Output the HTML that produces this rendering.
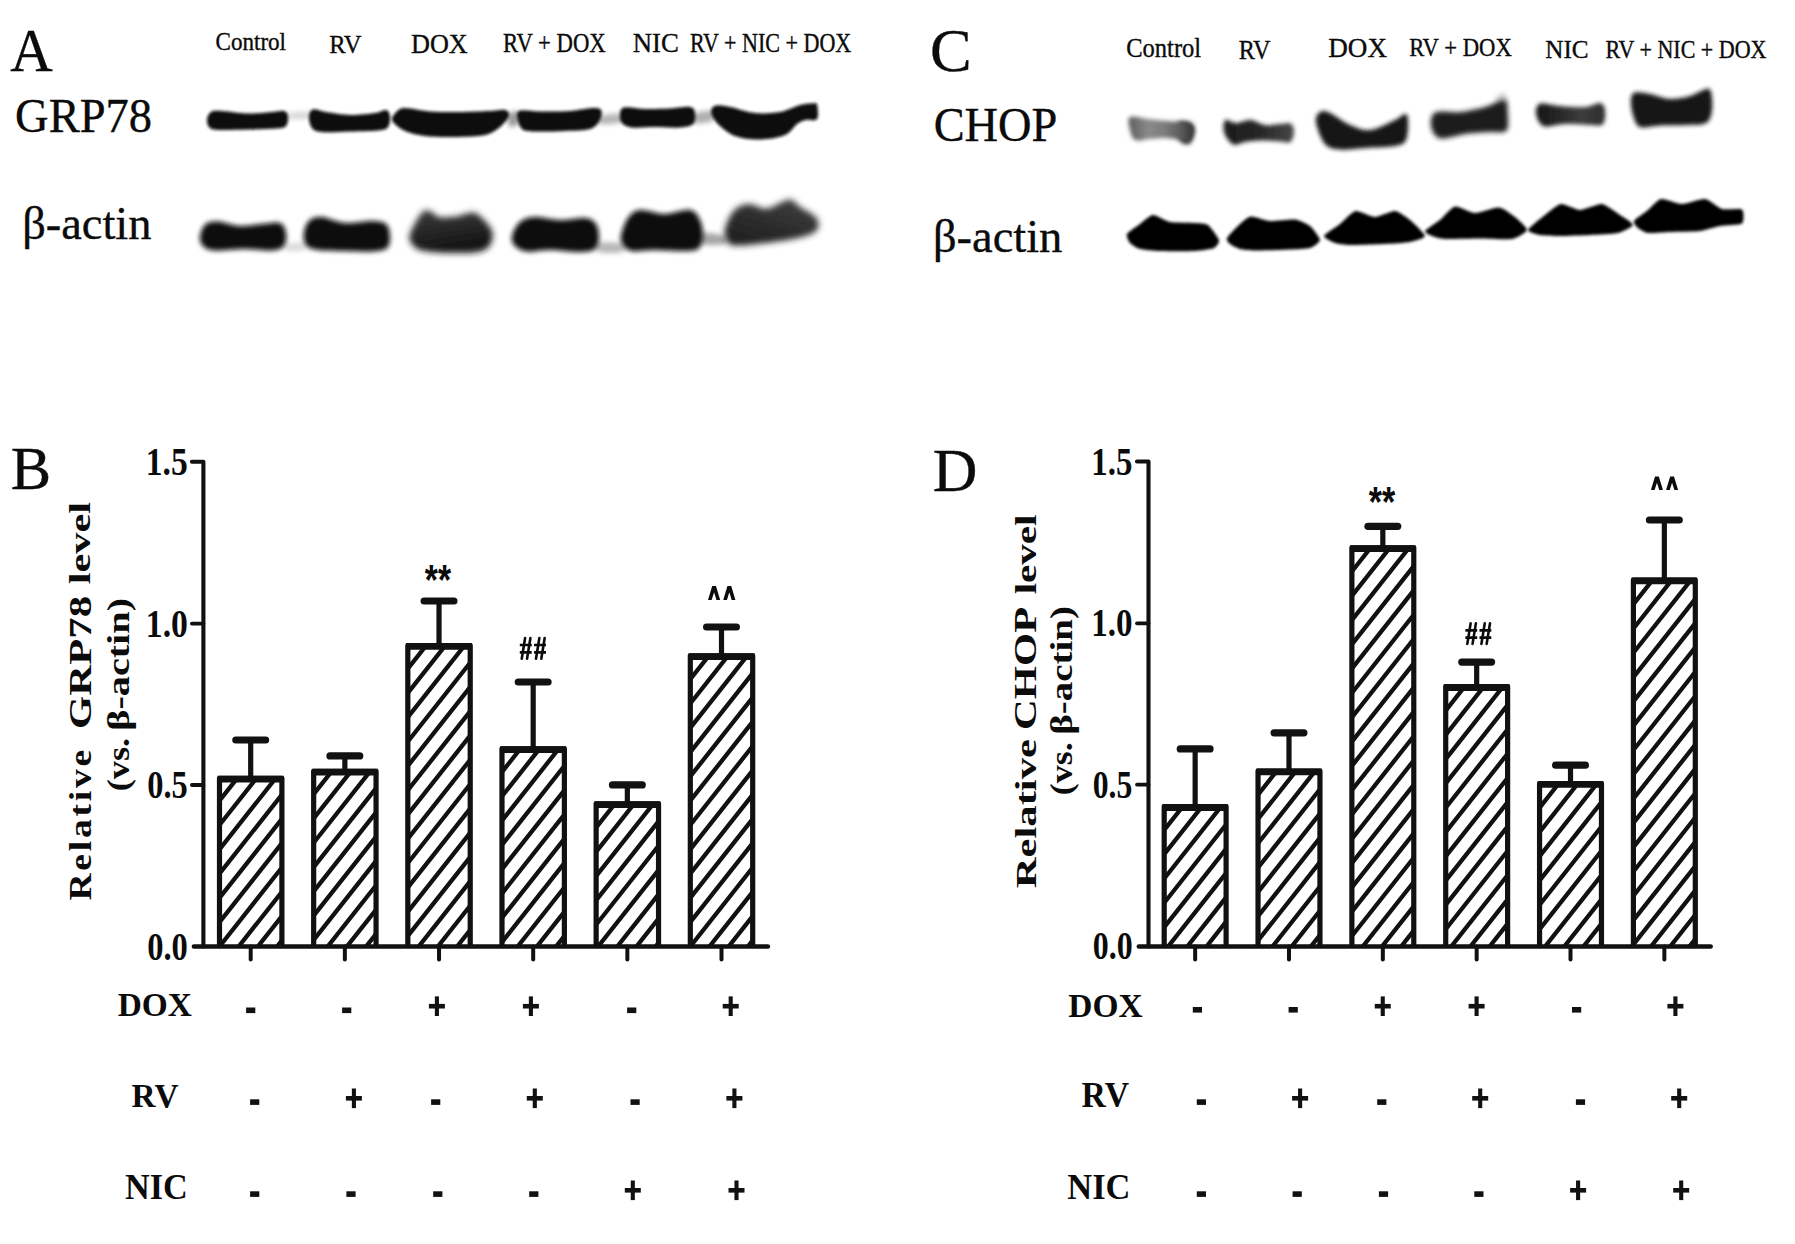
<!DOCTYPE html>
<html><head><meta charset="utf-8"><style>
html,body{margin:0;padding:0;background:#fff;overflow:hidden}
svg{display:block}
text{fill:#0b0b0b}
</style></head><body>
<svg width="1795" height="1244" viewBox="0 0 1795 1244">
<rect width="1795" height="1244" fill="#fff"/>
<clipPath id="clip203_0"><rect x="219.50" y="779.10" width="62.40" height="167.40"/></clipPath>
<path clip-path="url(#clip203_0)" d="M209.50 764.76L291.90 660.44M209.50 789.06L291.90 684.74M209.50 813.36L291.90 709.04M209.50 837.66L291.90 733.34M209.50 861.96L291.90 757.64M209.50 886.26L291.90 781.94M209.50 910.56L291.90 806.24M209.50 934.86L291.90 830.54M209.50 959.16L291.90 854.84M209.50 983.46L291.90 879.14M209.50 1007.76L291.90 903.44M209.50 1032.06L291.90 927.74M209.50 1056.36L291.90 952.04M209.50 1080.66L291.90 976.34" stroke="#111" stroke-width="4.3" fill="none"/>
<path d="M219.50 946.5V778.30H281.90V946.5" stroke="#111" stroke-width="5.2" fill="none" stroke-linejoin="round"/>
<path d="M217.70 779.10H283.70" stroke="#111" stroke-width="6.8" fill="none"/>
<path d="M250.70 776.70V740.00" stroke="#111" stroke-width="5.2" fill="none"/>
<path d="M235.80 740.00H265.60" stroke="#111" stroke-width="7.2" stroke-linecap="round" fill="none"/>
<path d="M250.70 946.5V959.60" stroke="#111" stroke-width="4" stroke-linecap="round" fill="none"/>
<clipPath id="clip203_1"><rect x="313.66" y="772.10" width="62.40" height="174.40"/></clipPath>
<path clip-path="url(#clip203_1)" d="M303.66 758.26L386.06 653.94M303.66 782.56L386.06 678.24M303.66 806.86L386.06 702.54M303.66 831.16L386.06 726.84M303.66 855.46L386.06 751.14M303.66 879.76L386.06 775.44M303.66 904.06L386.06 799.74M303.66 928.36L386.06 824.04M303.66 952.66L386.06 848.34M303.66 976.96L386.06 872.64M303.66 1001.26L386.06 896.94M303.66 1025.56L386.06 921.24M303.66 1049.86L386.06 945.54M303.66 1074.16L386.06 969.84" stroke="#111" stroke-width="4.3" fill="none"/>
<path d="M313.66 946.5V771.30H376.06V946.5" stroke="#111" stroke-width="5.2" fill="none" stroke-linejoin="round"/>
<path d="M311.86 772.10H377.86" stroke="#111" stroke-width="6.8" fill="none"/>
<path d="M344.86 769.70V755.90" stroke="#111" stroke-width="5.2" fill="none"/>
<path d="M329.96 755.90H359.76" stroke="#111" stroke-width="7.2" stroke-linecap="round" fill="none"/>
<path d="M344.86 946.5V959.60" stroke="#111" stroke-width="4" stroke-linecap="round" fill="none"/>
<clipPath id="clip203_2"><rect x="407.82" y="646.40" width="62.40" height="300.10"/></clipPath>
<path clip-path="url(#clip203_2)" d="M397.82 632.76L480.22 528.44M397.82 657.06L480.22 552.74M397.82 681.36L480.22 577.04M397.82 705.66L480.22 601.34M397.82 729.96L480.22 625.64M397.82 754.26L480.22 649.94M397.82 778.56L480.22 674.24M397.82 802.86L480.22 698.54M397.82 827.16L480.22 722.84M397.82 851.46L480.22 747.14M397.82 875.76L480.22 771.44M397.82 900.06L480.22 795.74M397.82 924.36L480.22 820.04M397.82 948.66L480.22 844.34M397.82 972.96L480.22 868.64M397.82 997.26L480.22 892.94M397.82 1021.56L480.22 917.24M397.82 1045.86L480.22 941.54M397.82 1070.16L480.22 965.84" stroke="#111" stroke-width="4.3" fill="none"/>
<path d="M407.82 946.5V645.60H470.22V946.5" stroke="#111" stroke-width="5.2" fill="none" stroke-linejoin="round"/>
<path d="M406.02 646.40H472.02" stroke="#111" stroke-width="6.8" fill="none"/>
<path d="M439.02 644.00V601.00" stroke="#111" stroke-width="5.2" fill="none"/>
<path d="M424.12 601.00H453.92" stroke="#111" stroke-width="7.2" stroke-linecap="round" fill="none"/>
<path d="M439.02 946.5V959.60" stroke="#111" stroke-width="4" stroke-linecap="round" fill="none"/>
<clipPath id="clip203_3"><rect x="501.98" y="749.60" width="62.40" height="196.90"/></clipPath>
<path clip-path="url(#clip203_3)" d="M491.98 736.06L574.38 631.74M491.98 760.36L574.38 656.04M491.98 784.66L574.38 680.34M491.98 808.96L574.38 704.64M491.98 833.26L574.38 728.94M491.98 857.56L574.38 753.24M491.98 881.86L574.38 777.54M491.98 906.16L574.38 801.84M491.98 930.46L574.38 826.14M491.98 954.76L574.38 850.44M491.98 979.06L574.38 874.74M491.98 1003.36L574.38 899.04M491.98 1027.66L574.38 923.34M491.98 1051.96L574.38 947.64M491.98 1076.26L574.38 971.94" stroke="#111" stroke-width="4.3" fill="none"/>
<path d="M501.98 946.5V748.80H564.38V946.5" stroke="#111" stroke-width="5.2" fill="none" stroke-linejoin="round"/>
<path d="M500.18 749.60H566.18" stroke="#111" stroke-width="6.8" fill="none"/>
<path d="M533.18 747.20V682.00" stroke="#111" stroke-width="5.2" fill="none"/>
<path d="M518.28 682.00H548.08" stroke="#111" stroke-width="7.2" stroke-linecap="round" fill="none"/>
<path d="M533.18 946.5V959.60" stroke="#111" stroke-width="4" stroke-linecap="round" fill="none"/>
<clipPath id="clip203_4"><rect x="596.14" y="804.60" width="62.40" height="141.90"/></clipPath>
<path clip-path="url(#clip203_4)" d="M586.14 791.56L668.54 687.24M586.14 815.86L668.54 711.54M586.14 840.16L668.54 735.84M586.14 864.46L668.54 760.14M586.14 888.76L668.54 784.44M586.14 913.06L668.54 808.74M586.14 937.36L668.54 833.04M586.14 961.66L668.54 857.34M586.14 985.96L668.54 881.64M586.14 1010.26L668.54 905.94M586.14 1034.56L668.54 930.24M586.14 1058.86L668.54 954.54M586.14 1083.16L668.54 978.84" stroke="#111" stroke-width="4.3" fill="none"/>
<path d="M596.14 946.5V803.80H658.54V946.5" stroke="#111" stroke-width="5.2" fill="none" stroke-linejoin="round"/>
<path d="M594.34 804.60H660.34" stroke="#111" stroke-width="6.8" fill="none"/>
<path d="M627.34 802.20V784.90" stroke="#111" stroke-width="5.2" fill="none"/>
<path d="M612.44 784.90H642.24" stroke="#111" stroke-width="7.2" stroke-linecap="round" fill="none"/>
<path d="M627.34 946.5V959.60" stroke="#111" stroke-width="4" stroke-linecap="round" fill="none"/>
<clipPath id="clip203_5"><rect x="690.30" y="656.60" width="62.40" height="289.90"/></clipPath>
<path clip-path="url(#clip203_5)" d="M680.30 643.26L762.70 538.94M680.30 667.56L762.70 563.24M680.30 691.86L762.70 587.54M680.30 716.16L762.70 611.84M680.30 740.46L762.70 636.14M680.30 764.76L762.70 660.44M680.30 789.06L762.70 684.74M680.30 813.36L762.70 709.04M680.30 837.66L762.70 733.34M680.30 861.96L762.70 757.64M680.30 886.26L762.70 781.94M680.30 910.56L762.70 806.24M680.30 934.86L762.70 830.54M680.30 959.16L762.70 854.84M680.30 983.46L762.70 879.14M680.30 1007.76L762.70 903.44M680.30 1032.06L762.70 927.74M680.30 1056.36L762.70 952.04M680.30 1080.66L762.70 976.34" stroke="#111" stroke-width="4.3" fill="none"/>
<path d="M690.30 946.5V655.80H752.70V946.5" stroke="#111" stroke-width="5.2" fill="none" stroke-linejoin="round"/>
<path d="M688.50 656.60H754.50" stroke="#111" stroke-width="6.8" fill="none"/>
<path d="M721.50 654.20V627.00" stroke="#111" stroke-width="5.2" fill="none"/>
<path d="M706.60 627.00H736.40" stroke="#111" stroke-width="7.2" stroke-linecap="round" fill="none"/>
<path d="M721.50 946.5V959.60" stroke="#111" stroke-width="4" stroke-linecap="round" fill="none"/>
<path d="M191.90 461.70H203.40V946.5" stroke="#111" stroke-width="4.1" fill="none" stroke-linecap="round" stroke-linejoin="round"/>
<path d="M191.90 623.60H203.40" stroke="#111" stroke-width="3.8" stroke-linecap="round" fill="none"/>
<path d="M191.90 785.00H203.40" stroke="#111" stroke-width="3.8" stroke-linecap="round" fill="none"/>
<path d="M194.00 946.5H767.80" stroke="#111" stroke-width="4.7" stroke-linecap="round" fill="none"/>
<clipPath id="clip1148_0"><rect x="1164.20" y="807.50" width="61.90" height="139.00"/></clipPath>
<path clip-path="url(#clip1148_0)" d="M1154.20 794.06L1236.10 690.37M1154.20 818.36L1236.10 714.67M1154.20 842.66L1236.10 738.97M1154.20 866.96L1236.10 763.27M1154.20 891.26L1236.10 787.57M1154.20 915.56L1236.10 811.87M1154.20 939.86L1236.10 836.17M1154.20 964.16L1236.10 860.47M1154.20 988.46L1236.10 884.77M1154.20 1012.76L1236.10 909.07M1154.20 1037.06L1236.10 933.37M1154.20 1061.36L1236.10 957.67M1154.20 1085.66L1236.10 981.97" stroke="#111" stroke-width="4.3" fill="none"/>
<path d="M1164.20 946.5V806.70H1226.10V946.5" stroke="#111" stroke-width="5.2" fill="none" stroke-linejoin="round"/>
<path d="M1162.40 807.50H1227.90" stroke="#111" stroke-width="6.8" fill="none"/>
<path d="M1195.15 805.10V748.90" stroke="#111" stroke-width="5.2" fill="none"/>
<path d="M1180.25 748.90H1210.05" stroke="#111" stroke-width="7.2" stroke-linecap="round" fill="none"/>
<path d="M1195.15 946.5V959.60" stroke="#111" stroke-width="4" stroke-linecap="round" fill="none"/>
<clipPath id="clip1148_1"><rect x="1258.04" y="771.80" width="61.90" height="174.70"/></clipPath>
<path clip-path="url(#clip1148_1)" d="M1248.04 758.76L1329.94 655.07M1248.04 783.06L1329.94 679.37M1248.04 807.36L1329.94 703.67M1248.04 831.66L1329.94 727.97M1248.04 855.96L1329.94 752.27M1248.04 880.26L1329.94 776.57M1248.04 904.56L1329.94 800.87M1248.04 928.86L1329.94 825.17M1248.04 953.16L1329.94 849.47M1248.04 977.46L1329.94 873.77M1248.04 1001.76L1329.94 898.07M1248.04 1026.06L1329.94 922.37M1248.04 1050.36L1329.94 946.67M1248.04 1074.66L1329.94 970.97" stroke="#111" stroke-width="4.3" fill="none"/>
<path d="M1258.04 946.5V771.00H1319.94V946.5" stroke="#111" stroke-width="5.2" fill="none" stroke-linejoin="round"/>
<path d="M1256.24 771.80H1321.74" stroke="#111" stroke-width="6.8" fill="none"/>
<path d="M1288.99 769.40V732.80" stroke="#111" stroke-width="5.2" fill="none"/>
<path d="M1274.09 732.80H1303.89" stroke="#111" stroke-width="7.2" stroke-linecap="round" fill="none"/>
<path d="M1288.99 946.5V959.60" stroke="#111" stroke-width="4" stroke-linecap="round" fill="none"/>
<clipPath id="clip1148_2"><rect x="1351.88" y="548.60" width="61.90" height="397.90"/></clipPath>
<path clip-path="url(#clip1148_2)" d="M1341.88 535.56L1423.78 431.87M1341.88 559.86L1423.78 456.17M1341.88 584.16L1423.78 480.47M1341.88 608.46L1423.78 504.77M1341.88 632.76L1423.78 529.07M1341.88 657.06L1423.78 553.37M1341.88 681.36L1423.78 577.67M1341.88 705.66L1423.78 601.97M1341.88 729.96L1423.78 626.27M1341.88 754.26L1423.78 650.57M1341.88 778.56L1423.78 674.87M1341.88 802.86L1423.78 699.17M1341.88 827.16L1423.78 723.47M1341.88 851.46L1423.78 747.77M1341.88 875.76L1423.78 772.07M1341.88 900.06L1423.78 796.37M1341.88 924.36L1423.78 820.67M1341.88 948.66L1423.78 844.97M1341.88 972.96L1423.78 869.27M1341.88 997.26L1423.78 893.57M1341.88 1021.56L1423.78 917.87M1341.88 1045.86L1423.78 942.17M1341.88 1070.16L1423.78 966.47" stroke="#111" stroke-width="4.3" fill="none"/>
<path d="M1351.88 946.5V547.80H1413.78V946.5" stroke="#111" stroke-width="5.2" fill="none" stroke-linejoin="round"/>
<path d="M1350.08 548.60H1415.58" stroke="#111" stroke-width="6.8" fill="none"/>
<path d="M1382.83 546.20V526.30" stroke="#111" stroke-width="5.2" fill="none"/>
<path d="M1367.93 526.30H1397.73" stroke="#111" stroke-width="7.2" stroke-linecap="round" fill="none"/>
<path d="M1382.83 946.5V959.60" stroke="#111" stroke-width="4" stroke-linecap="round" fill="none"/>
<clipPath id="clip1148_3"><rect x="1445.72" y="687.50" width="61.90" height="259.00"/></clipPath>
<path clip-path="url(#clip1148_3)" d="M1435.72 674.56L1517.62 570.87M1435.72 698.86L1517.62 595.17M1435.72 723.16L1517.62 619.47M1435.72 747.46L1517.62 643.77M1435.72 771.76L1517.62 668.07M1435.72 796.06L1517.62 692.37M1435.72 820.36L1517.62 716.67M1435.72 844.66L1517.62 740.97M1435.72 868.96L1517.62 765.27M1435.72 893.26L1517.62 789.57M1435.72 917.56L1517.62 813.87M1435.72 941.86L1517.62 838.17M1435.72 966.16L1517.62 862.47M1435.72 990.46L1517.62 886.77M1435.72 1014.76L1517.62 911.07M1435.72 1039.06L1517.62 935.37M1435.72 1063.36L1517.62 959.67" stroke="#111" stroke-width="4.3" fill="none"/>
<path d="M1445.72 946.5V686.70H1507.62V946.5" stroke="#111" stroke-width="5.2" fill="none" stroke-linejoin="round"/>
<path d="M1443.92 687.50H1509.42" stroke="#111" stroke-width="6.8" fill="none"/>
<path d="M1476.67 685.10V662.10" stroke="#111" stroke-width="5.2" fill="none"/>
<path d="M1461.77 662.10H1491.57" stroke="#111" stroke-width="7.2" stroke-linecap="round" fill="none"/>
<path d="M1476.67 946.5V959.60" stroke="#111" stroke-width="4" stroke-linecap="round" fill="none"/>
<clipPath id="clip1148_4"><rect x="1539.56" y="784.40" width="61.90" height="162.10"/></clipPath>
<path clip-path="url(#clip1148_4)" d="M1529.56 771.76L1611.46 668.07M1529.56 796.06L1611.46 692.37M1529.56 820.36L1611.46 716.67M1529.56 844.66L1611.46 740.97M1529.56 868.96L1611.46 765.27M1529.56 893.26L1611.46 789.57M1529.56 917.56L1611.46 813.87M1529.56 941.86L1611.46 838.17M1529.56 966.16L1611.46 862.47M1529.56 990.46L1611.46 886.77M1529.56 1014.76L1611.46 911.07M1529.56 1039.06L1611.46 935.37M1529.56 1063.36L1611.46 959.67" stroke="#111" stroke-width="4.3" fill="none"/>
<path d="M1539.56 946.5V783.60H1601.46V946.5" stroke="#111" stroke-width="5.2" fill="none" stroke-linejoin="round"/>
<path d="M1537.76 784.40H1603.26" stroke="#111" stroke-width="6.8" fill="none"/>
<path d="M1570.51 782.00V765.20" stroke="#111" stroke-width="5.2" fill="none"/>
<path d="M1555.61 765.20H1585.41" stroke="#111" stroke-width="7.2" stroke-linecap="round" fill="none"/>
<path d="M1570.51 946.5V959.60" stroke="#111" stroke-width="4" stroke-linecap="round" fill="none"/>
<clipPath id="clip1148_5"><rect x="1633.40" y="580.90" width="61.90" height="365.60"/></clipPath>
<path clip-path="url(#clip1148_5)" d="M1623.40 568.36L1705.30 464.67M1623.40 592.66L1705.30 488.97M1623.40 616.96L1705.30 513.27M1623.40 641.26L1705.30 537.57M1623.40 665.56L1705.30 561.87M1623.40 689.86L1705.30 586.17M1623.40 714.16L1705.30 610.47M1623.40 738.46L1705.30 634.77M1623.40 762.76L1705.30 659.07M1623.40 787.06L1705.30 683.37M1623.40 811.36L1705.30 707.67M1623.40 835.66L1705.30 731.97M1623.40 859.96L1705.30 756.27M1623.40 884.26L1705.30 780.57M1623.40 908.56L1705.30 804.87M1623.40 932.86L1705.30 829.17M1623.40 957.16L1705.30 853.47M1623.40 981.46L1705.30 877.77M1623.40 1005.76L1705.30 902.07M1623.40 1030.06L1705.30 926.37M1623.40 1054.36L1705.30 950.67M1623.40 1078.66L1705.30 974.97" stroke="#111" stroke-width="4.3" fill="none"/>
<path d="M1633.40 946.5V580.10H1695.30V946.5" stroke="#111" stroke-width="5.2" fill="none" stroke-linejoin="round"/>
<path d="M1631.60 580.90H1697.10" stroke="#111" stroke-width="6.8" fill="none"/>
<path d="M1664.35 578.50V520.00" stroke="#111" stroke-width="5.2" fill="none"/>
<path d="M1649.45 520.00H1679.25" stroke="#111" stroke-width="7.2" stroke-linecap="round" fill="none"/>
<path d="M1664.35 946.5V959.60" stroke="#111" stroke-width="4" stroke-linecap="round" fill="none"/>
<path d="M1137.00 461.50H1148.50V946.5" stroke="#111" stroke-width="4.1" fill="none" stroke-linecap="round" stroke-linejoin="round"/>
<path d="M1137.00 623.30H1148.50" stroke="#111" stroke-width="3.8" stroke-linecap="round" fill="none"/>
<path d="M1137.00 784.60H1148.50" stroke="#111" stroke-width="3.8" stroke-linecap="round" fill="none"/>
<path d="M1138.90 946.5H1710.60" stroke="#111" stroke-width="4.7" stroke-linecap="round" fill="none"/>
<rect x="246.10" y="1007.50" width="9.2" height="5.6" fill="#111"/>
<rect x="342.10" y="1007.50" width="9.2" height="5.6" fill="#111"/>
<rect x="428.90" y="1003.90" width="16" height="4.6" fill="#111"/><rect x="434.85" y="996.40" width="4.1" height="19.6" fill="#111"/>
<rect x="522.90" y="1003.90" width="16" height="4.6" fill="#111"/><rect x="528.85" y="996.40" width="4.1" height="19.6" fill="#111"/>
<rect x="627.10" y="1007.50" width="9.2" height="5.6" fill="#111"/>
<rect x="722.70" y="1003.90" width="16" height="4.6" fill="#111"/><rect x="728.65" y="996.40" width="4.1" height="19.6" fill="#111"/>
<rect x="250.10" y="1099.30" width="9.2" height="5.6" fill="#111"/>
<rect x="345.90" y="1096.00" width="16" height="4.6" fill="#111"/><rect x="351.85" y="1088.50" width="4.1" height="19.6" fill="#111"/>
<rect x="431.10" y="1099.30" width="9.2" height="5.6" fill="#111"/>
<rect x="526.80" y="1096.00" width="16" height="4.6" fill="#111"/><rect x="532.75" y="1088.50" width="4.1" height="19.6" fill="#111"/>
<rect x="630.50" y="1099.30" width="9.2" height="5.6" fill="#111"/>
<rect x="726.40" y="1096.00" width="16" height="4.6" fill="#111"/><rect x="732.35" y="1088.50" width="4.1" height="19.6" fill="#111"/>
<rect x="250.10" y="1191.30" width="9.2" height="5.6" fill="#111"/>
<rect x="346.40" y="1191.30" width="9.2" height="5.6" fill="#111"/>
<rect x="433.20" y="1191.30" width="9.2" height="5.6" fill="#111"/>
<rect x="529.20" y="1191.30" width="9.2" height="5.6" fill="#111"/>
<rect x="624.80" y="1188.00" width="16" height="4.6" fill="#111"/><rect x="630.75" y="1180.50" width="4.1" height="19.6" fill="#111"/>
<rect x="728.50" y="1188.00" width="16" height="4.6" fill="#111"/><rect x="734.45" y="1180.50" width="4.1" height="19.6" fill="#111"/>
<rect x="1192.80" y="1007.00" width="9.2" height="5.6" fill="#111"/>
<rect x="1288.60" y="1007.00" width="9.2" height="5.6" fill="#111"/>
<rect x="1374.75" y="1003.90" width="16" height="4.6" fill="#111"/><rect x="1380.70" y="996.40" width="4.1" height="19.6" fill="#111"/>
<rect x="1468.60" y="1003.90" width="16" height="4.6" fill="#111"/><rect x="1474.55" y="996.40" width="4.1" height="19.6" fill="#111"/>
<rect x="1572.00" y="1007.00" width="9.2" height="5.6" fill="#111"/>
<rect x="1667.40" y="1003.90" width="16" height="4.6" fill="#111"/><rect x="1673.35" y="996.40" width="4.1" height="19.6" fill="#111"/>
<rect x="1196.80" y="1099.30" width="9.2" height="5.6" fill="#111"/>
<rect x="1292.10" y="1096.00" width="16" height="4.6" fill="#111"/><rect x="1298.05" y="1088.50" width="4.1" height="19.6" fill="#111"/>
<rect x="1377.20" y="1099.30" width="9.2" height="5.6" fill="#111"/>
<rect x="1472.20" y="1096.00" width="16" height="4.6" fill="#111"/><rect x="1478.15" y="1088.50" width="4.1" height="19.6" fill="#111"/>
<rect x="1575.90" y="1099.30" width="9.2" height="5.6" fill="#111"/>
<rect x="1671.20" y="1096.00" width="16" height="4.6" fill="#111"/><rect x="1677.15" y="1088.50" width="4.1" height="19.6" fill="#111"/>
<rect x="1196.80" y="1191.30" width="9.2" height="5.6" fill="#111"/>
<rect x="1292.60" y="1191.30" width="9.2" height="5.6" fill="#111"/>
<rect x="1378.90" y="1191.30" width="9.2" height="5.6" fill="#111"/>
<rect x="1474.30" y="1191.30" width="9.2" height="5.6" fill="#111"/>
<rect x="1570.10" y="1188.00" width="16" height="4.6" fill="#111"/><rect x="1576.05" y="1180.50" width="4.1" height="19.6" fill="#111"/>
<rect x="1673.20" y="1188.00" width="16" height="4.6" fill="#111"/><rect x="1679.15" y="1180.50" width="4.1" height="19.6" fill="#111"/>
<path d="M519.80 645.02H531.75M519.80 652.38H531.75" stroke="#0b0b0b" stroke-width="2.7" fill="none"/><path d="M525.11 638.00L521.74 658.70M530.42 638.00L527.05 658.70" stroke="#0b0b0b" stroke-width="2.6" fill="none" stroke-linecap="round"/><path d="M534.05 645.02H546.00M534.05 652.38H546.00" stroke="#0b0b0b" stroke-width="2.7" fill="none"/><path d="M539.36 638.00L535.99 658.70M544.67 638.00L541.30 658.70" stroke="#0b0b0b" stroke-width="2.6" fill="none" stroke-linecap="round"/>
<polygon points="708.00,600.10 711.70,600.10 714.08,592.20 716.45,600.10 720.15,600.10 715.98,586.00 712.18,586.00" fill="#0b0b0b"/><polygon points="723.25,600.10 726.95,600.10 729.33,592.20 731.70,600.10 735.40,600.10 731.23,586.00 727.43,586.00" fill="#0b0b0b"/>
<path d="M1465.40 630.35H1477.20M1465.40 637.64H1477.20" stroke="#0b0b0b" stroke-width="2.7" fill="none"/><path d="M1470.64 623.40L1467.31 643.90M1475.89 623.40L1472.56 643.90" stroke="#0b0b0b" stroke-width="2.6" fill="none" stroke-linecap="round"/><path d="M1479.50 630.35H1491.30M1479.50 637.64H1491.30" stroke="#0b0b0b" stroke-width="2.7" fill="none"/><path d="M1484.74 623.40L1481.41 643.90M1489.99 623.40L1486.66 643.90" stroke="#0b0b0b" stroke-width="2.6" fill="none" stroke-linecap="round"/>
<polygon points="1650.90,490.10 1654.60,490.10 1656.93,482.80 1659.25,490.10 1662.95,490.10 1658.83,476.60 1655.03,476.60" fill="#0b0b0b"/><polygon points="1666.05,490.10 1669.75,490.10 1672.07,482.80 1674.40,490.10 1678.10,490.10 1673.97,476.60 1670.17,476.60" fill="#0b0b0b"/>
<defs><filter id="bl14" x="-20%" y="-50%" width="140%" height="200%"><feGaussianBlur stdDeviation="1.4"/></filter><filter id="bl16" x="-20%" y="-50%" width="140%" height="200%"><feGaussianBlur stdDeviation="1.6"/></filter><filter id="bl20" x="-20%" y="-50%" width="140%" height="200%"><feGaussianBlur stdDeviation="2.0"/></filter><filter id="bl22" x="-20%" y="-50%" width="140%" height="200%"><feGaussianBlur stdDeviation="2.2"/></filter><filter id="bl24" x="-20%" y="-50%" width="140%" height="200%"><feGaussianBlur stdDeviation="2.4"/></filter><filter id="bl25" x="-20%" y="-50%" width="140%" height="200%"><feGaussianBlur stdDeviation="2.5"/></filter><filter id="bl28" x="-20%" y="-50%" width="140%" height="200%"><feGaussianBlur stdDeviation="2.8"/></filter><filter id="bl30" x="-20%" y="-50%" width="140%" height="200%"><feGaussianBlur stdDeviation="3.0"/></filter><filter id="bl34" x="-20%" y="-50%" width="140%" height="200%"><feGaussianBlur stdDeviation="3.4"/></filter><linearGradient id="g3" x1="0" y1="0" x2="0.3" y2="1"><stop offset="0" stop-color="#3a3a3a"/><stop offset="0.55" stop-color="#262626"/><stop offset="1" stop-color="#121212"/></linearGradient><linearGradient id="g6" x1="0" y1="1" x2="0.6" y2="0"><stop offset="0" stop-color="#1c1c1c"/><stop offset="0.6" stop-color="#2e2e2e"/><stop offset="1" stop-color="#3c3c3c"/></linearGradient><linearGradient id="gc1" x1="0" y1="0" x2="1" y2="0"><stop offset="0" stop-color="#5c5c5c"/><stop offset="0.3" stop-color="#8a8a8a"/><stop offset="0.55" stop-color="#7c7c7c"/><stop offset="0.8" stop-color="#5a5a5a"/><stop offset="1" stop-color="#333"/></linearGradient><linearGradient id="gc2" x1="0" y1="0" x2="1" y2="0"><stop offset="0" stop-color="#1c1c1c"/><stop offset="0.5" stop-color="#262626"/><stop offset="1" stop-color="#474747"/></linearGradient><linearGradient id="gc5" x1="0" y1="0" x2="1" y2="0"><stop offset="0" stop-color="#141414"/><stop offset="0.3" stop-color="#262626"/><stop offset="0.65" stop-color="#3c3c3c"/><stop offset="1" stop-color="#2c2c2c"/></linearGradient></defs>
<path d="M287.0 244.0C289.8 242.7 301.2 242.0 304.0 243.0C306.8 244.0 306.8 248.7 304.0 250.0C301.2 251.3 289.8 252.0 287.0 251.0C284.2 250.0 284.2 245.3 287.0 244.0Z" fill="#dcdcdc" filter="url(#bl25)"/>
<path d="M290.0 113.0C293.2 111.8 305.8 111.2 309.0 112.0C312.2 112.8 312.2 116.8 309.0 118.0C305.8 119.2 293.2 119.8 290.0 119.0C286.8 118.2 286.8 114.2 290.0 113.0Z" fill="#d8d8d8" filter="url(#bl25)"/>
<path d="M1496.0 100.0C1495.5 97.2 1501.0 93.0 1503.0 93.0C1505.0 93.0 1507.5 97.2 1508.0 100.0C1508.5 102.8 1508.0 110.0 1506.0 110.0C1504.0 110.0 1496.5 102.8 1496.0 100.0Z" fill="#c8c8c8" filter="url(#bl25)"/>
<path d="M599.0 243.0C602.8 241.7 618.2 242.5 622.0 244.0C625.8 245.5 625.8 250.7 622.0 252.0C618.2 253.3 602.8 253.5 599.0 252.0C595.2 250.5 595.2 244.3 599.0 243.0Z" fill="#b8b8b8" filter="url(#bl25)"/>
<path d="M600.0 116.0C603.5 114.3 617.5 113.0 621.0 114.0C624.5 115.0 624.5 120.3 621.0 122.0C617.5 123.7 603.5 125.0 600.0 124.0C596.5 123.0 596.5 117.7 600.0 116.0Z" fill="#b5b5b5" filter="url(#bl25)"/>
<path d="M693.0 114.0C696.2 112.0 708.8 109.8 712.0 111.0C715.2 112.2 715.2 119.0 712.0 121.0C708.8 123.0 696.2 124.2 693.0 123.0C689.8 121.8 689.8 116.0 693.0 114.0Z" fill="#b0b0b0" filter="url(#bl25)"/>
<path d="M702.0 233.0C705.8 231.7 721.2 234.2 725.0 236.0C728.8 237.8 728.8 242.7 725.0 244.0C721.2 245.3 705.8 245.8 702.0 244.0C698.2 242.2 698.2 234.3 702.0 233.0Z" fill="#a8a8a8" filter="url(#bl25)"/>
<path d="M509.0 114.0C510.5 111.7 516.5 110.3 518.0 112.0C519.5 113.7 519.5 121.7 518.0 124.0C516.5 126.3 510.5 127.7 509.0 126.0C507.5 124.3 507.5 116.3 509.0 114.0Z" fill="#9a9a9a" filter="url(#bl25)"/>
<path d="M1178.0 123.0C1179.7 120.2 1187.3 121.7 1190.0 123.0C1192.7 124.3 1194.2 127.7 1194.0 131.0C1193.8 134.3 1191.3 141.5 1189.0 143.0C1186.7 144.5 1181.8 143.3 1180.0 140.0C1178.2 136.7 1176.3 125.8 1178.0 123.0Z" fill="#2a2a2a" filter="url(#bl24)"/>
<path d="M410.0 234.0C411.7 228.8 418.5 216.2 422.0 212.5C425.5 208.8 428.2 210.8 431.0 211.5C433.8 212.2 434.8 216.2 439.0 217.0C443.2 217.8 450.5 217.2 456.0 216.5C461.5 215.8 467.8 212.4 472.0 212.5C476.2 212.6 477.7 213.9 481.0 217.0C484.3 220.1 490.5 226.3 492.0 231.0C493.5 235.7 492.3 241.5 490.0 245.0C487.7 248.5 484.7 250.7 478.0 252.0C471.3 253.3 459.3 253.2 450.0 253.0C440.7 252.8 428.3 252.0 422.0 250.5C415.7 249.0 414.0 246.8 412.0 244.0C410.0 241.2 408.3 239.2 410.0 234.0Z" fill="url(#g3)" filter="url(#bl30)"/>
<path d="M725.0 229.0C726.2 224.1 730.0 214.7 734.0 210.5C738.0 206.3 743.2 204.3 748.7 204.0C754.2 203.7 760.3 209.3 767.0 208.6C773.7 207.8 783.5 199.8 789.0 199.5C794.5 199.2 795.4 203.7 800.0 206.8C804.6 209.9 813.8 214.1 816.5 218.0C819.2 221.9 819.6 227.2 816.5 230.5C813.4 233.8 807.2 235.8 798.0 238.0C788.8 240.2 772.2 242.3 761.5 243.5C750.8 244.7 739.8 246.0 734.0 245.4C728.2 244.8 728.1 242.7 726.6 240.0C725.1 237.3 723.8 233.9 725.0 229.0Z" fill="url(#g6)" filter="url(#bl34)"/>
<path d="M1130.0 117.0C1132.6 115.4 1140.3 118.0 1145.0 118.5C1149.7 119.0 1153.0 119.5 1158.0 120.0C1163.0 120.5 1169.7 121.0 1175.0 121.5C1180.3 122.0 1186.8 121.4 1190.0 123.0C1193.2 124.6 1194.2 127.7 1194.0 131.0C1193.8 134.3 1191.7 141.6 1189.0 143.0C1186.3 144.4 1182.0 140.3 1178.0 139.5C1174.0 138.7 1169.7 138.1 1165.0 138.0C1160.3 137.9 1155.0 138.7 1150.0 139.0C1145.0 139.3 1138.4 141.8 1135.0 140.0C1131.6 138.2 1130.3 131.8 1129.5 128.0C1128.7 124.2 1127.4 118.6 1130.0 117.0Z" fill="url(#gc1)" filter="url(#bl20)"/>
<path d="M1225.3 120.0C1227.2 118.3 1231.8 123.0 1236.0 123.0C1240.2 123.0 1245.6 119.7 1250.4 120.0C1255.2 120.3 1260.1 124.3 1265.0 125.0C1269.9 125.7 1275.8 124.2 1280.0 124.0C1284.2 123.8 1288.2 122.3 1290.5 123.5C1292.8 124.7 1294.0 127.9 1294.0 131.0C1294.0 134.1 1292.8 140.2 1290.5 142.0C1288.2 143.8 1285.0 141.8 1280.0 141.5C1275.0 141.2 1266.2 140.4 1260.4 140.5C1254.6 140.6 1249.5 141.3 1245.0 142.0C1240.5 142.7 1236.8 146.0 1233.3 144.5C1229.8 143.0 1225.6 137.1 1224.3 133.0C1223.0 128.9 1223.3 121.7 1225.3 120.0Z" fill="url(#gc2)" filter="url(#bl20)"/>
<path d="M1536.0 110.0C1536.5 107.2 1537.0 104.2 1541.0 103.5C1545.0 102.8 1552.7 105.4 1560.0 106.0C1567.3 106.6 1578.3 107.5 1585.0 107.0C1591.7 106.5 1596.7 102.5 1600.0 103.0C1603.3 103.5 1604.5 106.5 1605.0 110.0C1605.5 113.5 1605.5 121.5 1603.0 124.0C1600.5 126.5 1596.3 125.0 1590.0 125.0C1583.7 125.0 1572.5 123.8 1565.0 124.0C1557.5 124.2 1549.5 127.2 1545.0 126.5C1540.5 125.8 1539.5 122.8 1538.0 120.0C1536.5 117.2 1535.5 112.8 1536.0 110.0Z" fill="url(#gc5)" filter="url(#bl22)"/>
<path d="M1431.0 120.0C1431.7 116.7 1432.2 113.3 1437.0 112.0C1441.8 110.7 1452.0 112.8 1460.0 112.0C1468.0 111.2 1478.3 108.8 1485.0 107.0C1491.7 105.2 1496.5 101.8 1500.0 101.0C1503.5 100.2 1504.7 99.2 1506.0 102.0C1507.3 104.8 1508.0 113.2 1508.0 118.0C1508.0 122.8 1509.0 128.7 1506.0 131.0C1503.0 133.3 1496.8 131.5 1490.0 132.0C1483.2 132.5 1473.0 132.9 1465.0 134.0C1457.0 135.1 1447.3 138.8 1442.0 138.5C1436.7 138.2 1434.8 135.1 1433.0 132.0C1431.2 128.9 1430.3 123.3 1431.0 120.0Z" fill="#1a1a1a" filter="url(#bl24)"/>
<path d="M1316.0 122.0C1315.2 116.7 1317.7 113.5 1320.0 112.0C1322.3 110.5 1325.0 110.8 1330.0 113.0C1335.0 115.2 1343.3 122.2 1350.0 125.0C1356.7 127.8 1362.5 130.8 1370.0 130.0C1377.5 129.2 1389.2 122.7 1395.0 120.0C1400.8 117.3 1402.8 114.0 1405.0 114.0C1407.2 114.0 1407.8 115.7 1408.0 120.0C1408.2 124.3 1408.2 135.7 1406.0 140.0C1403.8 144.3 1401.8 144.7 1395.0 146.0C1388.2 147.3 1374.2 147.4 1365.0 148.0C1355.8 148.6 1346.7 150.2 1340.0 149.5C1333.3 148.8 1329.0 148.6 1325.0 144.0C1321.0 139.4 1316.8 127.3 1316.0 122.0Z" fill="#181818" filter="url(#bl22)"/>
<path d="M1631.0 100.0C1631.3 96.2 1631.8 93.5 1635.0 92.5C1638.2 91.5 1644.2 92.9 1650.0 94.0C1655.8 95.1 1663.3 98.7 1670.0 99.0C1676.7 99.3 1684.0 97.7 1690.0 96.0C1696.0 94.3 1702.5 89.7 1706.0 89.0C1709.5 88.3 1710.0 88.5 1711.0 92.0C1712.0 95.5 1712.8 104.8 1712.0 110.0C1711.2 115.2 1710.5 120.5 1706.0 123.0C1701.5 125.5 1692.7 124.6 1685.0 125.0C1677.3 125.4 1667.5 125.2 1660.0 125.5C1652.5 125.8 1644.5 128.8 1640.0 127.0C1635.5 125.2 1634.5 119.5 1633.0 115.0C1631.5 110.5 1630.7 103.8 1631.0 100.0Z" fill="#161616" filter="url(#bl22)"/>
<path d="M207.0 120.0C207.2 117.3 208.5 113.5 211.0 112.0C213.5 110.5 216.0 110.8 222.0 111.0C228.0 111.2 238.7 113.3 247.0 113.5C255.3 113.7 265.8 112.4 272.0 112.0C278.2 111.6 281.3 110.3 284.0 111.0C286.7 111.7 287.7 113.5 288.0 116.0C288.3 118.5 288.0 123.9 286.0 126.0C284.0 128.1 282.3 127.9 276.0 128.5C269.7 129.1 257.3 129.2 248.0 129.5C238.7 129.8 226.3 130.2 220.0 130.0C213.7 129.8 212.2 129.7 210.0 128.0C207.8 126.3 206.8 122.7 207.0 120.0Z" fill="#0c0c0c" filter="url(#bl16)"/>
<path d="M309.0 116.0C309.2 112.9 310.2 110.2 313.0 109.5C315.8 108.8 319.8 111.1 326.0 112.0C332.2 112.9 341.8 114.8 350.0 115.0C358.2 115.2 369.0 113.8 375.0 113.0C381.0 112.2 383.5 109.5 386.0 110.0C388.5 110.5 389.7 113.2 390.0 116.0C390.3 118.8 390.0 124.6 388.0 127.0C386.0 129.4 384.3 129.8 378.0 130.5C371.7 131.2 359.3 131.2 350.0 131.5C340.7 131.8 328.3 132.6 322.0 132.0C315.7 131.4 314.2 130.7 312.0 128.0C309.8 125.3 308.8 119.1 309.0 116.0Z" fill="#0c0c0c" filter="url(#bl16)"/>
<path d="M392.0 118.0C392.8 115.5 397.0 110.6 400.0 109.0C403.0 107.4 405.0 108.1 410.0 108.5C415.0 108.9 421.7 110.9 430.0 111.5C438.3 112.1 450.0 112.1 460.0 112.0C470.0 111.9 482.5 111.3 490.0 111.0C497.5 110.7 501.8 109.2 505.0 110.0C508.2 110.8 509.8 113.2 509.0 116.0C508.2 118.8 504.0 123.8 500.0 127.0C496.0 130.2 492.5 133.3 485.0 135.0C477.5 136.7 465.0 136.8 455.0 137.0C445.0 137.2 433.3 137.0 425.0 136.0C416.7 135.0 410.0 133.0 405.0 131.0C400.0 129.0 397.2 126.2 395.0 124.0C392.8 121.8 391.2 120.5 392.0 118.0Z" fill="#0c0c0c" filter="url(#bl16)"/>
<path d="M517.0 116.0C516.8 112.9 517.2 111.2 521.0 110.5C524.8 109.8 531.8 111.4 540.0 111.5C548.2 111.6 561.3 111.6 570.0 111.0C578.7 110.4 586.8 108.2 592.0 108.0C597.2 107.8 599.7 108.0 601.0 110.0C602.3 112.0 601.8 116.8 600.0 120.0C598.2 123.2 595.8 127.2 590.0 129.0C584.2 130.8 574.2 130.6 565.0 131.0C555.8 131.4 542.2 131.8 535.0 131.5C527.8 131.2 525.0 131.6 522.0 129.0C519.0 126.4 517.2 119.1 517.0 116.0Z" fill="#0c0c0c" filter="url(#bl16)"/>
<path d="M620.0 115.0C620.3 112.4 619.8 108.5 624.0 107.5C628.2 106.5 637.3 108.8 645.0 109.0C652.7 109.2 662.5 108.8 670.0 108.5C677.5 108.2 685.8 106.2 690.0 107.0C694.2 107.8 694.5 110.2 695.0 113.0C695.5 115.8 695.5 121.6 693.0 124.0C690.5 126.4 686.3 127.0 680.0 127.5C673.7 128.0 663.0 127.0 655.0 127.0C647.0 127.0 637.5 128.2 632.0 127.5C626.5 126.8 624.0 125.1 622.0 123.0C620.0 120.9 619.7 117.6 620.0 115.0Z" fill="#0c0c0c" filter="url(#bl16)"/>
<path d="M711.0 112.0C710.7 108.9 712.8 106.3 716.0 105.5C719.2 104.7 723.5 105.8 730.0 107.0C736.5 108.2 746.7 112.2 755.0 113.0C763.3 113.8 772.5 113.3 780.0 112.0C787.5 110.7 794.7 106.4 800.0 105.0C805.3 103.6 809.2 103.6 812.0 103.5C814.8 103.4 816.2 101.9 817.0 104.5C817.8 107.1 818.8 116.4 817.0 119.0C815.2 121.6 809.3 119.2 806.0 120.0C802.7 120.8 800.5 121.5 797.0 124.0C793.5 126.5 791.2 132.4 785.0 135.0C778.8 137.6 768.3 139.3 760.0 139.5C751.7 139.7 742.0 138.6 735.0 136.0C728.0 133.4 722.0 128.0 718.0 124.0C714.0 120.0 711.3 115.1 711.0 112.0Z" fill="#0c0c0c" filter="url(#bl16)"/>
<path d="M200.0 236.0C200.5 232.3 203.0 226.4 206.0 224.0C209.0 221.6 212.3 221.2 218.0 221.5C223.7 221.8 232.7 225.6 240.0 226.0C247.3 226.4 255.3 224.5 262.0 224.0C268.7 223.5 276.0 221.5 280.0 223.0C284.0 224.5 285.3 229.2 286.0 233.0C286.7 236.8 286.3 243.1 284.0 246.0C281.7 248.9 278.5 250.0 272.0 250.5C265.5 251.0 254.5 249.0 245.0 249.0C235.5 249.0 222.0 251.0 215.0 250.5C208.0 250.0 205.5 248.4 203.0 246.0C200.5 243.6 199.5 239.7 200.0 236.0Z" fill="#0c0c0c" filter="url(#bl28)"/>
<path d="M304.0 232.0C304.7 227.8 307.0 222.5 310.0 220.0C313.0 217.5 316.2 216.5 322.0 217.0C327.8 217.5 336.7 222.3 345.0 223.0C353.3 223.7 365.2 220.8 372.0 221.0C378.8 221.2 383.0 221.5 386.0 224.0C389.0 226.5 389.8 232.0 390.0 236.0C390.2 240.0 390.0 245.4 387.0 248.0C384.0 250.6 379.0 251.0 372.0 251.5C365.0 252.0 354.0 251.2 345.0 251.0C336.0 250.8 324.5 251.0 318.0 250.0C311.5 249.0 308.3 248.0 306.0 245.0C303.7 242.0 303.3 236.2 304.0 232.0Z" fill="#0c0c0c" filter="url(#bl28)"/>
<path d="M512.0 236.0C512.8 232.0 516.2 225.2 520.0 222.0C523.8 218.8 528.3 217.3 535.0 217.0C541.7 216.7 551.7 219.8 560.0 220.0C568.3 220.2 579.0 217.3 585.0 218.0C591.0 218.7 593.7 220.7 596.0 224.0C598.3 227.3 599.2 233.8 599.0 238.0C598.8 242.2 598.2 246.7 595.0 249.0C591.8 251.3 587.5 251.8 580.0 252.0C572.5 252.2 558.8 250.1 550.0 250.0C541.2 249.9 532.8 252.2 527.0 251.5C521.2 250.8 517.5 248.6 515.0 246.0C512.5 243.4 511.2 240.0 512.0 236.0Z" fill="#0c0c0c" filter="url(#bl28)"/>
<path d="M621.0 236.0C621.8 231.5 624.8 222.3 628.0 218.0C631.2 213.7 633.8 210.7 640.0 210.0C646.2 209.3 656.7 214.0 665.0 214.0C673.3 214.0 684.2 209.0 690.0 210.0C695.8 211.0 697.8 215.7 700.0 220.0C702.2 224.3 703.3 231.2 703.0 236.0C702.7 240.8 701.8 246.5 698.0 249.0C694.2 251.5 687.2 250.8 680.0 251.0C672.8 251.2 663.0 250.0 655.0 250.0C647.0 250.0 637.3 251.8 632.0 251.0C626.7 250.2 624.8 247.5 623.0 245.0C621.2 242.5 620.2 240.5 621.0 236.0Z" fill="#0c0c0c" filter="url(#bl28)"/>
<path d="M1127.0 234.0C1128.0 232.1 1137.4 225.9 1140.0 224.0C1142.6 222.1 1150.0 215.2 1153.0 215.0C1156.0 214.8 1165.8 221.2 1170.0 222.0C1174.2 222.8 1191.2 222.7 1195.0 223.0C1198.8 223.3 1205.6 223.3 1208.0 225.0C1210.4 226.7 1218.4 237.7 1219.0 240.0C1219.6 242.3 1216.4 246.9 1214.0 248.0C1211.6 249.1 1200.4 250.7 1195.0 251.0C1189.6 251.3 1165.5 251.2 1160.0 251.0C1154.5 250.8 1143.0 249.8 1140.0 249.0C1137.0 248.2 1131.3 244.5 1130.0 243.0C1128.7 241.5 1126.0 235.9 1127.0 234.0Z" fill="#050505" filter="url(#bl14)"/>
<path d="M1227.0 238.0C1228.0 236.0 1237.6 226.2 1240.0 224.0C1242.4 221.8 1248.0 216.8 1251.0 216.5C1254.0 216.2 1265.6 220.7 1270.0 221.0C1274.4 221.3 1291.0 219.0 1295.0 219.5C1299.0 220.0 1307.5 223.9 1310.0 226.0C1312.5 228.1 1320.0 237.8 1320.0 240.0C1320.0 242.2 1313.0 247.1 1310.0 248.0C1307.0 248.9 1295.5 249.2 1290.0 249.5C1284.5 249.8 1260.0 250.6 1255.0 250.5C1250.0 250.4 1242.5 249.7 1240.0 249.0C1237.5 248.3 1231.3 245.1 1230.0 244.0C1228.7 242.9 1226.0 240.0 1227.0 238.0Z" fill="#050505" filter="url(#bl14)"/>
<path d="M1324.0 236.0C1324.5 234.1 1336.8 226.5 1340.0 224.0C1343.2 221.5 1352.0 211.7 1355.5 211.0C1359.0 210.3 1371.0 217.0 1375.0 217.0C1379.0 217.0 1391.5 210.7 1395.0 211.0C1398.5 211.3 1407.0 217.5 1410.0 220.0C1413.0 222.5 1425.0 233.8 1425.0 236.0C1425.0 238.2 1414.0 241.2 1410.0 242.0C1406.0 242.8 1391.0 243.7 1385.0 244.0C1379.0 244.3 1355.0 245.1 1350.0 245.0C1345.0 244.9 1337.6 243.9 1335.0 243.0C1332.4 242.1 1323.5 237.9 1324.0 236.0Z" fill="#050505" filter="url(#bl14)"/>
<path d="M1425.0 231.0C1425.8 229.4 1437.0 222.4 1440.0 220.0C1443.0 217.6 1451.5 207.2 1455.0 206.5C1458.5 205.8 1470.6 212.9 1475.0 213.0C1479.4 213.1 1495.0 207.1 1499.0 207.5C1503.0 207.9 1512.2 214.8 1515.0 217.0C1517.8 219.2 1527.3 227.8 1527.0 230.0C1526.7 232.2 1516.7 238.2 1512.0 239.0C1507.3 239.8 1486.7 238.5 1480.0 238.5C1473.3 238.5 1449.8 239.2 1445.0 239.0C1440.2 238.8 1434.0 236.8 1432.0 236.0C1430.0 235.2 1424.2 232.6 1425.0 231.0Z" fill="#050505" filter="url(#bl14)"/>
<path d="M1528.0 230.0C1528.5 228.0 1541.7 217.6 1545.0 215.0C1548.3 212.4 1557.5 204.5 1561.0 204.0C1564.5 203.5 1575.9 210.0 1580.0 210.0C1584.1 210.0 1598.0 203.5 1602.0 204.0C1606.0 204.5 1616.9 212.9 1620.0 215.0C1623.1 217.1 1633.2 223.2 1633.0 225.0C1632.8 226.8 1622.3 232.0 1618.0 233.0C1613.7 234.0 1595.8 234.7 1590.0 235.0C1584.2 235.3 1565.0 236.0 1560.0 236.0C1555.0 236.0 1543.2 235.6 1540.0 235.0C1536.8 234.4 1527.5 232.0 1528.0 230.0Z" fill="#050505" filter="url(#bl14)"/>
<path d="M1634.0 221.0C1635.0 219.2 1645.3 212.2 1648.0 210.0C1650.7 207.8 1657.6 199.6 1661.0 199.0C1664.4 198.4 1677.6 204.0 1682.0 204.0C1686.4 204.0 1701.0 198.5 1705.0 199.0C1709.0 199.5 1718.3 207.9 1722.0 209.0C1725.7 210.1 1740.0 208.1 1742.0 209.5C1744.0 210.9 1744.2 221.8 1742.0 223.5C1739.8 225.2 1724.2 225.2 1720.0 226.0C1715.8 226.8 1705.0 230.4 1700.0 231.0C1695.0 231.6 1675.2 231.8 1670.0 232.0C1664.8 232.2 1651.2 233.4 1648.0 233.0C1644.8 232.6 1639.4 229.2 1638.0 228.0C1636.6 226.8 1633.0 222.8 1634.0 221.0Z" fill="#050505" filter="url(#bl14)"/>
<text transform="matrix(0.58723 0 0 0.62137 10.313 70.600)" font-family="Liberation Serif" font-weight="normal" font-size="100" stroke="#0b0b0b" stroke-width="0.35" vector-effect="non-scaling-stroke" xml:space="preserve">A</text>
<text transform="matrix(0.60508 0 0 0.60763 10.685 488.800)" font-family="Liberation Serif" font-weight="normal" font-size="100" stroke="#0b0b0b" stroke-width="0.35" vector-effect="non-scaling-stroke" xml:space="preserve">B</text>
<text transform="matrix(0.62456 0 0 0.61642 930.002 70.584)" font-family="Liberation Serif" font-weight="normal" font-size="100" stroke="#0b0b0b" stroke-width="0.35" vector-effect="non-scaling-stroke" xml:space="preserve">C</text>
<text transform="matrix(0.61846 0 0 0.60305 932.645 491.400)" font-family="Liberation Serif" font-weight="normal" font-size="100" stroke="#0b0b0b" stroke-width="0.35" vector-effect="non-scaling-stroke" xml:space="preserve">D</text>
<text transform="matrix(0.46527 0 0 0.47556 15.039 132.024)" font-family="Liberation Serif" font-weight="normal" font-size="100" stroke="#0b0b0b" stroke-width="0.35" vector-effect="non-scaling-stroke" xml:space="preserve">GRP78</text>
<text transform="matrix(0.46433 0 0 0.46593 22.182 238.715)" font-family="Liberation Serif" font-weight="normal" font-size="100" stroke="#0b0b0b" stroke-width="0.35" vector-effect="non-scaling-stroke" xml:space="preserve">β-actin</text>
<text transform="matrix(0.46383 0 0 0.49254 933.645 140.807)" font-family="Liberation Serif" font-weight="normal" font-size="100" stroke="#0b0b0b" stroke-width="0.35" vector-effect="non-scaling-stroke" xml:space="preserve">CHOP</text>
<text transform="matrix(0.46470 0 0 0.45604 932.979 251.923)" font-family="Liberation Serif" font-weight="normal" font-size="100" stroke="#0b0b0b" stroke-width="0.35" vector-effect="non-scaling-stroke" xml:space="preserve">β-actin</text>
<text transform="matrix(0.23105 0 0 0.26000 215.476 50.040)" font-family="Liberation Serif" font-weight="normal" font-size="100" stroke="#0b0b0b" stroke-width="0.35" vector-effect="non-scaling-stroke" xml:space="preserve">Control</text>
<text transform="matrix(0.24567 0 0 0.26015 329.363 52.610)" font-family="Liberation Serif" font-weight="normal" font-size="100" stroke="#0b0b0b" stroke-width="0.35" vector-effect="non-scaling-stroke" xml:space="preserve">RV</text>
<text transform="matrix(0.26226 0 0 0.26567 411.013 52.734)" font-family="Liberation Serif" font-weight="normal" font-size="100" stroke="#0b0b0b" stroke-width="0.35" vector-effect="non-scaling-stroke" xml:space="preserve">DOX</text>
<text transform="matrix(0.22704 0 0 0.26667 503.119 52.400)" font-family="Liberation Serif" font-weight="normal" font-size="100" stroke="#0b0b0b" stroke-width="0.35" vector-effect="non-scaling-stroke" xml:space="preserve">RV + DOX</text>
<text transform="matrix(0.26789 0 0 0.26567 632.696 51.934)" font-family="Liberation Serif" font-weight="normal" font-size="100" stroke="#0b0b0b" stroke-width="0.35" vector-effect="non-scaling-stroke" xml:space="preserve">NIC</text>
<text transform="matrix(0.22066 0 0 0.26667 690.038 52.400)" font-family="Liberation Serif" font-weight="normal" font-size="100" stroke="#0b0b0b" stroke-width="0.35" vector-effect="non-scaling-stroke" xml:space="preserve">RV + NIC + DOX</text>
<text transform="matrix(0.24541 0 0 0.26714 1126.218 57.133)" font-family="Liberation Serif" font-weight="normal" font-size="100" stroke="#0b0b0b" stroke-width="0.35" vector-effect="non-scaling-stroke" xml:space="preserve">Control</text>
<text transform="matrix(0.24252 0 0 0.28120 1238.772 59.178)" font-family="Liberation Serif" font-weight="normal" font-size="100" stroke="#0b0b0b" stroke-width="0.35" vector-effect="non-scaling-stroke" xml:space="preserve">RV</text>
<text transform="matrix(0.27123 0 0 0.27164 1328.286 56.628)" font-family="Liberation Serif" font-weight="normal" font-size="100" stroke="#0b0b0b" stroke-width="0.35" vector-effect="non-scaling-stroke" xml:space="preserve">DOX</text>
<text transform="matrix(0.22659 0 0 0.25481 1409.320 56.418)" font-family="Liberation Serif" font-weight="normal" font-size="100" stroke="#0b0b0b" stroke-width="0.35" vector-effect="non-scaling-stroke" xml:space="preserve">RV + DOX</text>
<text transform="matrix(0.25199 0 0 0.25522 1545.244 58.045)" font-family="Liberation Serif" font-weight="normal" font-size="100" stroke="#0b0b0b" stroke-width="0.35" vector-effect="non-scaling-stroke" xml:space="preserve">NIC</text>
<text transform="matrix(0.22039 0 0 0.25333 1605.539 57.920)" font-family="Liberation Serif" font-weight="normal" font-size="100" stroke="#0b0b0b" stroke-width="0.35" vector-effect="non-scaling-stroke" xml:space="preserve">RV + NIC + DOX</text>
<text transform="matrix(0.33568 0 0 0.41045 145.815 475.384)" font-family="Liberation Serif" font-weight="bold" font-size="100" xml:space="preserve">1.5</text>
<text transform="matrix(0.33717 0 0 0.40441 145.803 636.893)" font-family="Liberation Serif" font-weight="bold" font-size="100" xml:space="preserve">1.0</text>
<text transform="matrix(0.32426 0 0 0.40441 147.203 798.193)" font-family="Liberation Serif" font-weight="bold" font-size="100" xml:space="preserve">0.5</text>
<text transform="matrix(0.32564 0 0 0.40441 147.197 959.593)" font-family="Liberation Serif" font-weight="bold" font-size="100" xml:space="preserve">0.0</text>
<text transform="matrix(0.32863 0 0 0.41045 1091.371 474.684)" font-family="Liberation Serif" font-weight="bold" font-size="100" xml:space="preserve">1.5</text>
<text transform="matrix(0.33009 0 0 0.40441 1091.359 636.393)" font-family="Liberation Serif" font-weight="bold" font-size="100" xml:space="preserve">1.0</text>
<text transform="matrix(0.31745 0 0 0.40441 1092.730 797.693)" font-family="Liberation Serif" font-weight="bold" font-size="100" xml:space="preserve">0.5</text>
<text transform="matrix(0.31880 0 0 0.40441 1092.725 959.393)" font-family="Liberation Serif" font-weight="bold" font-size="100" xml:space="preserve">0.0</text>
<text transform="matrix(0 -0.37543 0.31286 0 90.887 900.563)" font-family="Liberation Serif" font-weight="bold" font-size="100" letter-spacing="7.383" xml:space="preserve">Relative</text>
<text transform="matrix(0 -0.42739 0.32000 0 90.680 728.937)" font-family="Liberation Serif" font-weight="bold" font-size="100" xml:space="preserve">GRP78</text>
<text transform="matrix(0 -0.42415 0.30286 0 90.497 584.348)" font-family="Liberation Serif" font-weight="bold" font-size="100" xml:space="preserve">level</text>
<text transform="matrix(0 -0.36245 0.30778 0 128.837 791.231)" font-family="Liberation Serif" font-weight="bold" font-size="100" xml:space="preserve">(vs.</text>
<text transform="matrix(0 -0.40187 0.31648 0 128.654 730.710)" font-family="Liberation Serif" font-weight="bold" font-size="100" xml:space="preserve">β-actin)</text>
<text transform="matrix(0 -0.42601 0.29857 0 1035.901 888.139)" font-family="Liberation Serif" font-weight="bold" font-size="100" xml:space="preserve">Relative</text>
<text transform="matrix(0 -0.42633 0.32090 0 1036.179 729.932)" font-family="Liberation Serif" font-weight="bold" font-size="100" xml:space="preserve">CHOP</text>
<text transform="matrix(0 -0.41102 0.29857 0 1035.601 594.322)" font-family="Liberation Serif" font-weight="bold" font-size="100" xml:space="preserve">level</text>
<text transform="matrix(0 -0.35957 0.31222 0 1071.743 795.218)" font-family="Liberation Serif" font-weight="bold" font-size="100" xml:space="preserve">(vs.</text>
<text transform="matrix(0 -0.38939 0.30879 0 1071.815 734.642)" font-family="Liberation Serif" font-weight="bold" font-size="100" xml:space="preserve">β-actin)</text>
<text transform="matrix(0.33636 0 0 0.42432 424.832 594.278)" font-family="Liberation Sans" font-weight="bold" font-size="100" xml:space="preserve">**</text>
<text transform="matrix(0.34026 0 0 0.42703 1368.830 516.165)" font-family="Liberation Sans" font-weight="bold" font-size="100" xml:space="preserve">**</text>
<text transform="matrix(0.33425 0 0 0.34328 117.732 1016.057)" font-family="Liberation Serif" font-weight="bold" font-size="100" xml:space="preserve">DOX</text>
<text transform="matrix(0.33285 0 0 0.34737 131.601 1106.579)" font-family="Liberation Serif" font-weight="bold" font-size="100" xml:space="preserve">RV</text>
<text transform="matrix(0.34294 0 0 0.35373 125.014 1199.346)" font-family="Liberation Serif" font-weight="bold" font-size="100" xml:space="preserve">NIC</text>
<text transform="matrix(0.33470 0 0 0.33881 1068.331 1016.761)" font-family="Liberation Serif" font-weight="bold" font-size="100" xml:space="preserve">DOX</text>
<text transform="matrix(0.33718 0 0 0.35038 1081.594 1107.174)" font-family="Liberation Serif" font-weight="bold" font-size="100" xml:space="preserve">RV</text>
<text transform="matrix(0.34467 0 0 0.35075 1067.311 1198.749)" font-family="Liberation Serif" font-weight="bold" font-size="100" xml:space="preserve">NIC</text>
</svg>
</body></html>
